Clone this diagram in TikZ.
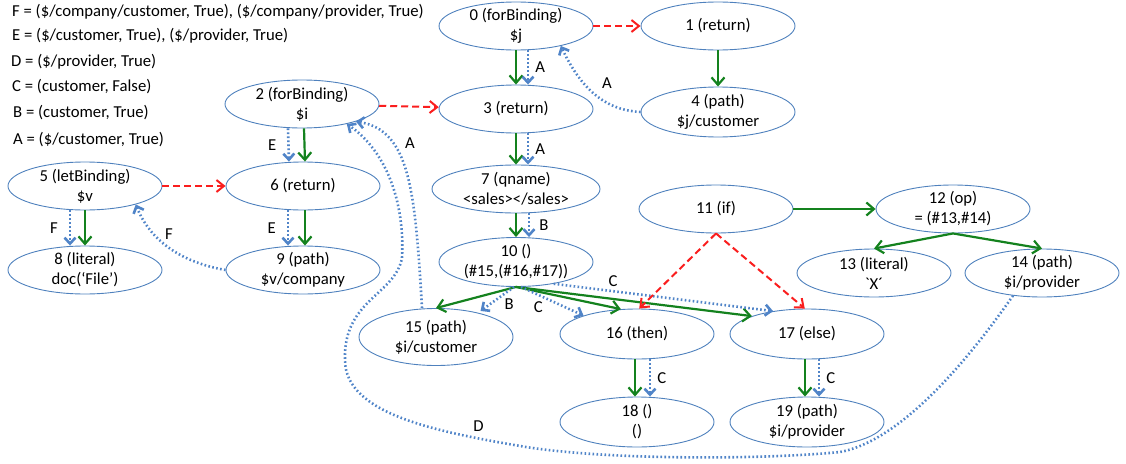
\documentclass[tikz,border=0pt]{standalone}
\usepackage{fontspec}
\setmainfont{Carlito}
\usetikzlibrary{shapes.geometric,arrows.meta}
\definecolor{opblue}{RGB}{79,129,189}
\definecolor{depblue}{RGB}{80,132,200}
\definecolor{treegreen}{RGB}{20,130,30}
\definecolor{flowred}{RGB}{250,30,30}
\tikzset{
op/.style={ellipse,draw=opblue,line width=0.9pt,minimum width=154pt,minimum height=48pt,inner sep=-2pt,align=center,font=\fontsize{16.7}{20}\selectfont},
tree/.style={draw=treegreen,line width=2.2pt,-{Straight Barb[length=7.5pt,width=13pt]}},
flow/.style={draw=flowred,line width=2pt,dash pattern=on 7pt off 4pt,-{Straight Barb[length=7.5pt,width=12pt]}},
dep/.style={draw=depblue,line width=2.6pt,dash pattern=on 1.6pt off 2.4pt,-{Straight Barb[length=6pt,width=11pt]}},
lbl/.style={inner sep=1pt,font=\fontsize{16.7}{20}\selectfont},
key/.style={anchor=west,inner sep=0pt,font=\fontsize{16.7}{20}\selectfont},
}
\begin{document}
\begin{tikzpicture}[x=1pt,y=-1pt]
\useasboundingbox (0,0) rectangle (1126,463);
\node[key] (kF) at (12,12) {F = (\$/company/customer, True), (\$/company/provider, True)};
\node[key] (kE) at (12,36) {E = (\$/customer, True), (\$/provider, True)};
\node[key] (kD) at (11,62) {D = (\$/provider, True)};
\node[key] (kC) at (12,87) {C = (customer, False)};
\node[key] (kB) at (13,113) {B = (customer, True)};
\node[key] (kA) at (13,140) {A = (\$/customer, True)};

\node[op] (n0) at (516,26) {0 (forBinding)\\\$j};
\node[op] (n1) at (718,26) {1 (return)};
\node[op] (n2) at (302,104) {2 (forBinding)\\\$i};
\node[op] (n3) at (516,109) {3 (return)};
\node[op,minimum height=50pt] (n4) at (718,112) {4 (path)\\\$j/customer};
\node[op] (n5) at (85,186) {5 (letBinding)\\\$v};
\node[op] (n6) at (303,186) {6 (return)};
\node[op,minimum width=168pt] (n7) at (516,189) {7 (qname)\\<sales></sales>};
\node[op] (n8) at (85,270) {8 (literal)\\doc(`File')};
\node[op] (n9) at (303,270) {9 (path)\\\$v/company};
\node[op,minimum height=49pt] (n10) at (516,262) {10 ()\\(\#15,(\#16,\#17))};
\node[op] (n11) at (716,209) {11 (if)};
\node[op] (n12) at (953,209) {12 (op)\\= (\#13,\#14)};
\node[op] (n13) at (874,273) {13 (literal)\\\textasciigrave X\textasciiacute};
\node[op] (n14) at (1042,273) {14 (path)\\\$i/provider};
\node[op,minimum height=57pt] (n15) at (436,337) {15 (path)\\\$i/customer};
\node[op,minimum height=50pt] (n16) at (637,334) {16 (then)};
\node[op,minimum height=50pt] (n17) at (807,334) {17 (else)};
\node[op,minimum height=50pt] (n18) at (637,422) {18 ()\\()};
\node[op,minimum height=50pt] (n19) at (807,422) {19 (path)\\\$i/provider};

\draw[tree] (n0) -- (n3);
\draw[dep] ([xshift=12pt]n0.south) -- node[lbl,right=5pt] {A} ([xshift=12pt]n3.north);
\draw[flow] (n0) -- (n1);
\draw[tree] (n1) -- (n4);
\draw[dep] (n4.west) .. controls (600,110) and (578,82) .. node[lbl,pos=0.45,above right=4pt] {A} (n0.-24);
\draw[flow] (n2) -- (n3);
\draw[dep] ([xshift=-14pt]n2.south) -- node[lbl,left=10pt] {E} ([xshift=-14pt]n6.north);
\draw[tree] ([xshift=2pt]n2.south) -- ([xshift=2pt]n6.north);
\draw[dep] ([xshift=-15pt]n6.south) -- node[lbl,left=10pt] {E} ([xshift=-15pt]n9.north);
\draw[tree] ([xshift=2pt]n6.south) -- ([xshift=2pt]n9.north);
\draw[flow] (n5) -- (n6);
\draw[dep] ([xshift=-15pt]n5.south) -- node[lbl,left=10pt] {F} ([xshift=-15pt]n8.north);
\draw[tree] (n5) -- (n8);
\draw[dep] (n9.west) .. controls (180,262) and (150,240) .. node[lbl,above=6pt] {F} (n5.-20);
\draw[tree] (n3) -- (n7);
\draw[dep] ([xshift=12pt]n3.south) -- node[lbl,right=5pt] {A} ([xshift=12pt]n7.north);
\draw[tree] (n7) -- (n10);
\draw[dep] ([xshift=13pt]n7.south) -- node[lbl,right=8pt] {B} ([xshift=13pt]n10.north);
\draw[tree] (n10.south) -- (n15.north);
\draw[tree] (n10.south) -- (n16.123);
\draw[tree] (n10.south) -- (n17.162);
\draw[dep,shorten >=3pt] ([xshift=-2pt]n10.south) -- node[lbl,pos=0.35,below right=1pt] {B} (n15.30);
\draw[dep] ([xshift=5pt]n10.south) -- node[lbl,pos=0.4,below left=1pt] {C} (n16.161);
\draw[dep] (n10.-30) -- node[lbl,pos=0.27,above=2pt] {C} (n17.146);
\draw[flow] (n11.south) -- (n16.85);
\draw[flow] (n11.south) -- (n17.95);
\draw[tree] (n11) -- (n12);
\draw[tree] (n12.south) -- (n13.north);
\draw[tree] (n12.south) -- (n14.north);
\draw[tree] ([xshift=-2pt]n16.south) -- ([xshift=-2pt]n18.north);
\draw[dep] ([xshift=13pt]n16.south) -- node[lbl,right=5pt] {C} ([xshift=13pt]n18.north);
\draw[tree] ([xshift=-2pt]n17.south) -- ([xshift=-2pt]n19.north);
\draw[dep] ([xshift=12pt]n17.south) -- node[lbl,right=5pt] {C} ([xshift=12pt]n19.north);
\draw[dep] ([xshift=-14pt]n15.north) .. controls (415,190) and (410,130) .. node[lbl,pos=0.7,right=10pt] {A} (n2.-18);
\draw[dep] (n14.-142) .. controls (975,350) and (905,440) .. (840,452)
  .. controls (760,460) and (600,460) .. (520,446)
  .. controls (440,432) and (345,415) .. node[lbl,pos=0.17,above=5pt] {D} (345,360)
  .. controls (343,300) and (395,295) .. (402,258)
  .. controls (405,200) and (385,150) .. (n2.-24);
\end{tikzpicture}
\end{document}
